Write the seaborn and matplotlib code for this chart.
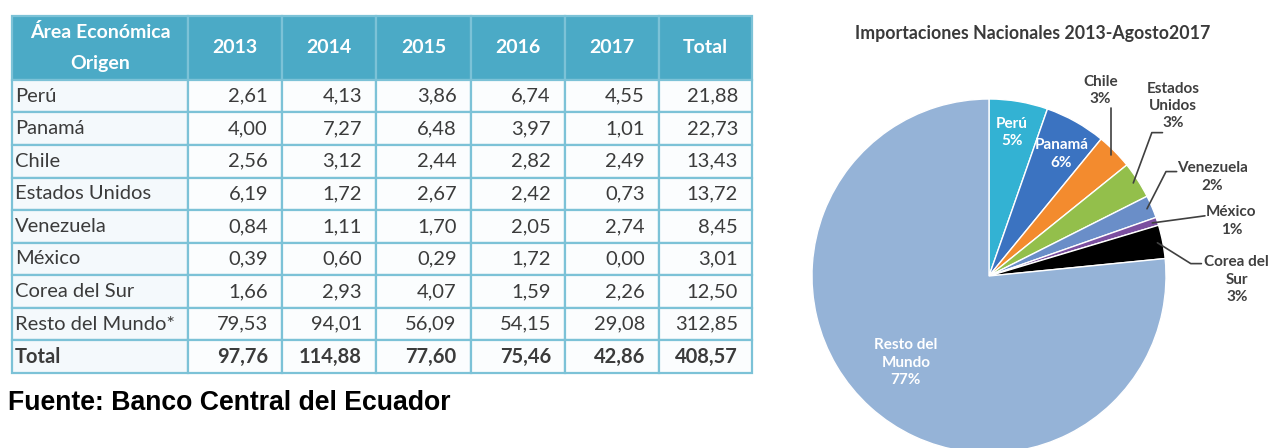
import seaborn as sns
import matplotlib.pyplot as plt
import numpy as np

# data (millones USD, importaciones por area economica de origen)
paises = ['Perú', 'Panamá', 'Chile', 'Estados Unidos', 'Venezuela', 'México',
          'Corea del Sur', 'Resto del Mundo*']
anios = ['2013', '2014', '2015', '2016', '2017']
v2013 = [2.61, 4.00, 2.56, 6.19, 0.84, 0.39, 1.66, 79.53]
v2014 = [4.13, 7.27, 3.12, 1.72, 1.11, 0.60, 2.93, 94.01]
v2015 = [3.86, 6.48, 2.44, 2.67, 1.70, 0.29, 4.07, 56.09]
v2016 = [6.74, 3.97, 2.82, 2.42, 2.05, 1.72, 1.59, 54.15]
v2017 = [4.55, 1.01, 2.49, 0.73, 2.74, 0.00, 2.26, 29.08]
totales = [21.88, 22.73, 13.43, 13.72, 8.45, 3.01, 12.50, 312.85]
total_anio = [97.76, 114.88, 77.60, 75.46, 42.86, 408.57]

pie_labels = ['Perú', 'Panamá', 'Chile', 'Estados\nUnidos', 'Venezuela', 'México',
              'Corea del\nSur', 'Resto del\nMundo']
pie_colors = ['#33B2D3', '#3B73C1', '#F38B2E', '#93BF4B', '#6A8EC8', '#7B4F9F',
              '#000000', '#95B3D7']

sns.set_style('white')
plt.rcParams['font.family'] = ['Lato', 'DejaVu Sans']

fig = plt.figure(figsize=(12.71, 4.48), dpi=100)

def fmt(v):
    return f'{v:.2f}'.replace('.', ',')

# ---- table ----
W, H = 1271, 448
tax = fig.add_axes([12 / W, (H - 373) / H, 740 / W, 357 / H])
tax.axis('off')

header = ['Área Económica\nOrigen'] + anios + ['Total']
rows = []
cols = [v2013, v2014, v2015, v2016, v2017, totales]
for i, p in enumerate(paises):
    rows.append([p] + [fmt(c[i]) for c in cols])
rows.append(['Total'] + [fmt(v) for v in total_anio])

col_w = [176, 94, 94, 95, 94, 94, 93]
col_w = [w / sum(col_w) for w in col_w]
tbl = tax.table(cellText=rows, colLabels=header, colWidths=col_w,
                bbox=[0, 0, 1, 1], cellLoc='right')
tbl.auto_set_font_size(False)
line_c = '#7CC2D7'
for (r, c), cell in tbl.get_celld().items():
    cell.set_edgecolor(line_c)
    cell.set_linewidth(1.6)
    t = cell.get_text()
    if r == 0:
        cell.set_facecolor('#4BAAC6')
        cell.set_height(cell.get_height() * 1.96)
        t.set_color('white')
        t.set_fontweight('bold')
        t.set_fontsize(14)
        cell._loc = 'center'
        t.set_ha('center')
        t.set_linespacing(2.0)
    else:
        cell.set_facecolor('#F4F9FC' if c == 0 else '#FBFDFE')
        t.set_color('#3B3B3B')
        t.set_fontsize(14.5)
        if c == 0:
            cell._loc = 'left'
            t.set_ha('left')
            cell.PAD = 0.015
        else:
            cell.PAD = 0.15
        if r == len(rows):
            t.set_fontweight('bold')

fig.text(8 / W, 1 - 403 / H, 'Fuente: Banco Central del Ecuador',
         family='Liberation Sans', fontweight='bold', fontsize=19.2,
         va='center', ha='left', color='black')

# ---- pie ----
R = 177
cx, cy = 989, 276
pax = fig.add_axes([(cx - R) / W, (H - cy - R) / H, 2 * R / W, 2 * R / H])
wedges, _ = pax.pie(totales, colors=pie_colors, startangle=90, counterclock=False,
                    radius=1)
pax.set_xlim(-1, 1)
pax.set_ylim(-1, 1)
pax.set_aspect('equal')
pax.axis('off')

pct = [round(100 * v / sum(totales)) for v in totales]

# label positions (radius units) and whether the label sits inside the slice
lab_pos = [(0.13, 0.81), (0.41, 0.69), (0.63, 1.05), (1.04, 0.96),
           (1.26, 0.56), (1.37, 0.31), (1.40, -0.02), (-0.47, -0.49)]
inside = [True, True, False, False, False, False, False, True]
# leader line elbows (radius units), None for straight
elbow = [None, None, None, (0.92, 0.81), (1.0, 0.59), None, (1.14, 0.07), None]
for i, w in enumerate(wedges):
    txt = f'{pie_labels[i]}\n{pct[i]}%'
    x, y = lab_pos[i]
    if inside[i]:
        pax.text(x, y, txt, ha='center', va='center', color='white',
                 fontweight='bold', fontsize=11, linespacing=1.3, clip_on=False)
        continue
    pax.text(x, y, txt, ha='center', va='center', color='#404040',
             fontweight='bold', fontsize=11, linespacing=1.3, clip_on=False)
    ang = np.deg2rad((w.theta1 + w.theta2) / 2)
    ax_, ay_ = 0.97 * np.cos(ang), 0.97 * np.sin(ang)
    if i == 2:
        pts = [(ax_, ay_), (ax_, 0.95)]
    elif i == 5:
        pts = [(ax_, ay_), (1.22, 0.34)]
    else:
        ex, ey = elbow[i]
        pts = [(ax_, ay_), (ex, ey), (ex + 0.06, ey)]
    xs, ys = zip(*pts)
    pax.plot(xs, ys, color='#404040', lw=1.2, clip_on=False)

fig.text(1033 / W, 1 - 33 / H, 'Importaciones Nacionales 2013-Agosto2017',
         ha='center', va='center', fontweight='bold', fontsize=12.8, color='#3A3A3A')

fig.savefig('out.png', dpi=100)
